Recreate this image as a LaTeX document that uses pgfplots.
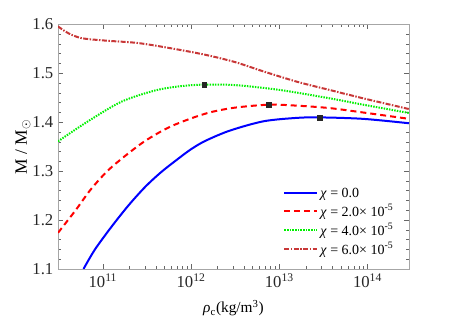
\documentclass[border=0pt]{standalone}
\usepackage{fontspec}
\setmainfont{Liberation Serif}
\usepackage{pgfplots}
\pgfplotsset{compat=1.18}
\definecolor{ddred}{RGB}{200,55,55}
\definecolor{lgreen}{RGB}{0,240,0}
\begin{document}
\begin{tikzpicture}[x=0.75pt,y=0.75pt]
\path[use as bounding box] (-58,-58) rectangle (394,269);
\begin{axis}[
  at={(0,0)}, anchor=south west,
  scale only axis,
  width=263.25pt, height=183.4pt,
  xmode=log,
  xmin=3.1e10, xmax=2.95e14,
  ymin=1.1, ymax=1.6,
  ytick={1.1,1.2,1.3,1.4,1.5,1.6},
  minor y tick num=4,
  xtick={1e11,1e12,1e13,1e14},
  xticklabels={10\textsuperscript{11},10\textsuperscript{12},10\textsuperscript{13},10\textsuperscript{14}},
  yticklabel style={/pgf/number format/.cd,fixed,fixed zerofill,precision=1,assume math mode=true},
  tick align=inside,
  major tick length=3.75pt,
  minor tick length=2.25pt,
  every tick/.style={gray!80!black, line width=0.5pt},
  axis line style={gray!70, line width=0.7pt},
  tick label style={font=\fontsize{12.5}{14}\selectfont, text=black!85},
  xlabel style={font=\fontsize{11.5}{13}\selectfont},
  ylabel style={font=\fontsize{13}{15}\selectfont},
  ylabel={M / M$_\odot$},
  xlabel={\textit{ρ}\textsubscript{c}(kg/m\textsuperscript{3})},
  ylabel style={at={(axis description cs:-0.1,0.5)}, anchor=center},
  xlabel style={at={(axis description cs:0.5,-0.16)}, anchor=center},
  legend style={at={(0.63,0.355)}, anchor=north west, draw=none, fill=none,
    font=\fontsize{10.5}{11.5}\selectfont, row sep=0pt},
  legend cell align=left,
  legend image code/.code={\draw[#1] (0cm,0cm) -- (0.85cm,0cm);},
]
\addplot[blue, line width=1.5pt, smooth] coordinates {
(6.03e10,1.100) (8.13e10,1.140) (1.26e11,1.187) (1.95e11,1.230) (3.02e11,1.268)
(4.57e11,1.298) (7.08e11,1.325) (1.0e12,1.345) (1.45e12,1.362) (2.75e12,1.383) (6.61e12,1.402)
(1.58e13,1.409) (2.88e13,1.410) (8.91e13,1.407) (2.95e14,1.398)};
\addlegendentry{\textit{χ} = 0.0}
\addplot[red, line width=1.5pt, dash pattern=on 4.5pt off 3pt, smooth] coordinates {
(3.1e10,1.174) (4.9e10,1.220) (7.24e10,1.262) (1.12e11,1.300) (1.78e11,1.331)
(3.02e11,1.362) (5.5e11,1.389) (1.0e12,1.408) (1.7e12,1.421) (3.16e12,1.430) (7.59e12,1.436)
(1.58e13,1.434) (3.72e13,1.429) (8.91e13,1.420) (2.95e14,1.407)};
\addlegendentry{\textit{χ} = 2.0× 10\textsuperscript{-5}}
\addplot[lgreen, line width=1.5pt, dash pattern=on 1.1pt off 0.9pt, smooth] coordinates {
(3.1e10,1.361) (6.92e10,1.403) (1.62e11,1.442) (3.89e11,1.465) (7.76e11,1.474)
(1.41e12,1.477) (3.16e12,1.476) (1.02e13,1.466) (3.72e13,1.449) (8.91e13,1.436)
(2.95e14,1.419)};
\addlegendentry{\textit{χ} = 4.0× 10\textsuperscript{-5}}
\addplot[ddred, line width=1.5pt, dash pattern=on 3.75pt off 1.1pt on 1.1pt off 1.1pt, smooth] coordinates {
(3.1e10,1.596) (4.07e10,1.582) (5.75e10,1.572) (1.07e11,1.567) (2.51e11,1.562)
(6.03e11,1.551) (1.45e12,1.538) (3.16e12,1.523) (6.61e12,1.504) (1.58e13,1.483)
(3.72e13,1.466) (8.91e13,1.449) (2.95e14,1.427)};
\addlegendentry{\textit{χ} = 6.0× 10\textsuperscript{-5}}
\addplot[only marks, mark=square*, mark size=1.8pt, black!85, forget plot] coordinates {
(2.88e13,1.410) (7.59e12,1.436) (1.41e12,1.477)};
\end{axis}
\end{tikzpicture}
\end{document}
